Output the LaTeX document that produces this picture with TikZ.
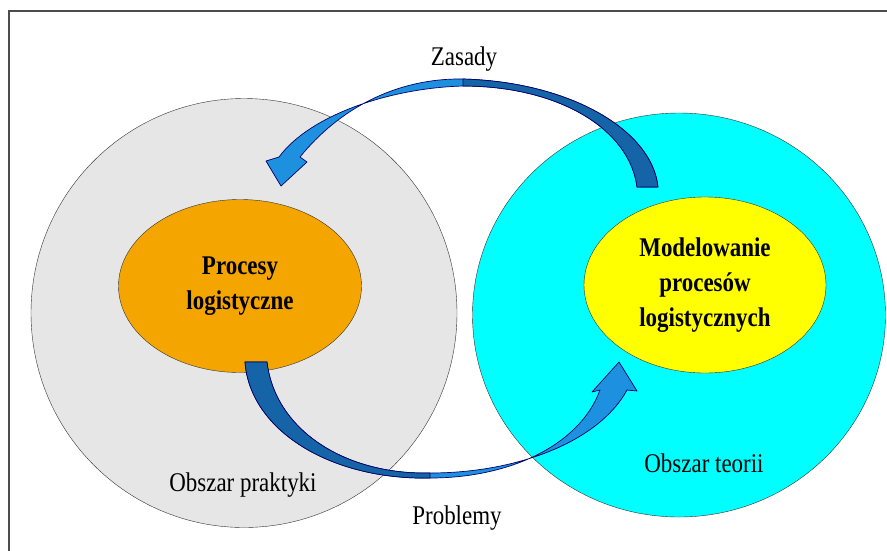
\documentclass[tikz,border=0pt]{standalone}
\usepackage{fontspec}
\setmainfont{Liberation Serif}[FakeStretch=0.85]
\usepackage{tikz}
\usetikzlibrary{shapes.geometric,positioning}
\definecolor{szary}{RGB}{230,230,230}
\definecolor{cyjan}{RGB}{0,255,255}
\definecolor{pomarancz}{RGB}{245,165,0}
\definecolor{zolty}{RGB}{255,255,0}
\definecolor{jasny}{RGB}{30,144,224}
\definecolor{ciemny}{RGB}{22,100,168}
\tikzset{
    %Define style for the two areas
    obszar/.style={
           ellipse,
           draw=black!80, thin,
           inner sep=0pt},
    %Define style for the inner ellipses
    proces/.style={
           ellipse,
           draw=black!80, thin,
           inner sep=0pt,
           align=center,
           font=\bfseries\fontsize{27}{35}\selectfont},
    %Define style for labels
    etykieta/.style={
           anchor=base,
           font=\fontsize{27}{35}\selectfont},
    % Define style for the ribbon arrows
    wstega/.style={
           draw=black!60!blue,
           line width=0.7pt,
           line join=round}
}
\begin{document}
\begin{tikzpicture}[x=1pt,y=-1pt]
\useasboundingbox (0,0) rectangle (887,550);
\draw[black!70, line width=1.2pt] (9,560) -- (9,11) -- (895,11);

 %areas
\node[obszar, fill=szary, minimum width=426pt, minimum height=429pt](praktyka) at (244,313){};
\node[obszar, fill=cyjan, minimum width=413pt, minimum height=404pt](teoria) at (679,315){};

 %processes
\node[proces, fill=pomarancz, minimum width=243pt, minimum height=173pt](procesy) at (240,286){Procesy\\logistyczne};
\node[proces, fill=zolty, minimum width=242pt, minimum height=176pt](model) at (705,285){Modelowanie\\procesów\\logistycznych};

 %labels
\node[etykieta](zasady) at (464,65){Zasady};
\node[etykieta](problemy) at (457,524){Problemy};
\node[etykieta](praktyki) at (243,491){Obszar praktyki};
\node[etykieta](teorii) at (704,472){Obszar teorii};

 %arrow from theory to practice
\filldraw[wstega, fill=jasny] (658,187) .. controls (652,130) and (570,82) .. (463,79)
    .. controls (395,78) and (338,110) .. (300,157)
    -- (307,162) -- (281,186) -- (266,161) -- (279,157)
    .. controls (310,115) and (390,88) .. (463,86)
    .. controls (560,86) and (630,130) .. (637,187) -- cycle;
\filldraw[wstega, fill=ciemny] (658,187) .. controls (652,130) and (570,82) .. (463,79)
    -- (463,86) .. controls (560,86) and (630,130) .. (637,187) -- cycle;

 %arrow from practice to theory
\filldraw[wstega, fill=jasny] (245,362) .. controls (250,430) and (330,480) .. (430,478)
    .. controls (510,478) and (580,445) .. (600,390)
    -- (592,392) -- (619,362) -- (637,391) -- (627,390)
    .. controls (600,440) and (520,473) .. (430,473)
    .. controls (345,475) and (275,430) .. (267,362) -- cycle;
\filldraw[wstega, fill=ciemny] (245,362) .. controls (250,430) and (330,480) .. (430,478)
    -- (430,473) .. controls (345,475) and (275,430) .. (267,362) -- cycle;

\end{tikzpicture}
\end{document}
